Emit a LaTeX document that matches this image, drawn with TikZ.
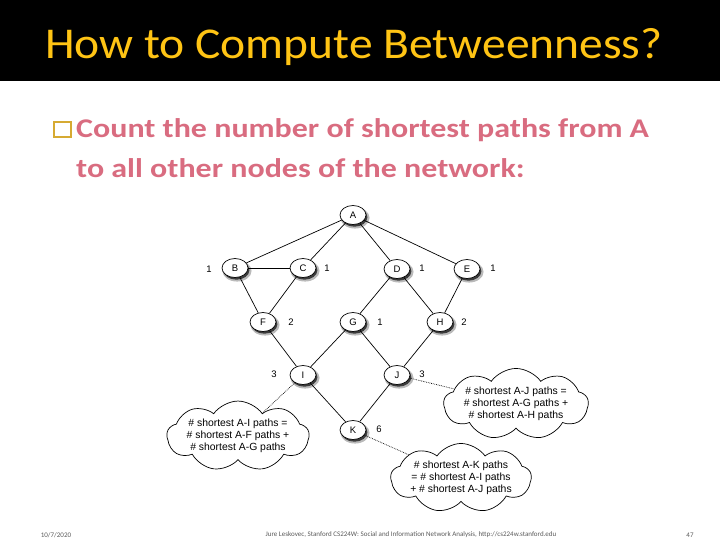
\documentclass[tikz,border=0pt]{standalone}
\usepackage{fontspec}
\usepackage{graphicx}
\setmainfont{Carlito}
\newfontfamily\graphfont{Liberation Sans}
\usetikzlibrary{shapes,shapes.symbols,shadows,positioning}
\definecolor{titlefg}{RGB}{255,196,20}
\definecolor{bodyfg}{RGB}{217,108,128}
\definecolor{bulletfg}{RGB}{214,170,50}
\definecolor{footfg}{RGB}{90,90,90}
\tikzstyle{vertex}=[draw, line width=0.7pt, ellipse, fill=white, minimum width=26pt, minimum height=19pt,
inner sep=0pt, font=\graphfont\fontsize{9.5}{10}\selectfont,
drop shadow={shadow xshift=1.8pt, shadow yshift=-2.6pt, shadow scale=1.12, fill=black!60, opacity=0.45},
drop shadow={shadow xshift=1.4pt, shadow yshift=-2.2pt, shadow scale=1.0, fill=black!85, opacity=0.85}]
\tikzstyle{count}=[font=\graphfont\fontsize{9.5}{10}\selectfont, inner sep=0pt]
\tikzstyle{edge}=[line width=0.7pt, black]
\tikzstyle{note}=[draw, line width=0.7pt, cloud, cloud puffs=9, cloud puff arc=110, aspect=3,
fill=white, align=center, inner xsep=-1pt, inner ysep=-5pt,
font=\graphfont\fontsize{10.4}{12}\selectfont]
\tikzstyle{pointer}=[densely dotted, line width=0.7pt]
\tikzstyle{bodytext}=[anchor=base west, inner sep=0pt, text=bodyfg, font=\bfseries\fontsize{27}{30}\selectfont]

\begin{document}
\begin{tikzpicture}[x=1pt, y=-1pt]
    \useasboundingbox (0,0) rectangle (720,540);

    % title bar
    \fill[black] (0,0) rectangle (720,81);
    \node[anchor=base west, inner sep=0pt, text=titlefg, font=\fontsize{44}{48}\selectfont]
        (title) at (45,59) {\scalebox{1.08}[1]{How to Compute Betweenness?}};

    % bullet
    \draw[bulletfg, line width=1.1pt] (54,122) rectangle (71,137);
    \node[bodytext] (line1) at (76,138) {\scalebox{1.185}[1]{Count the number of shortest paths from A}};
    \node[bodytext] (line2) at (76,178) {\scalebox{1.185}[1]{to all other nodes of the network:}};

    % vertices
    \node[vertex] (A) at (353,215) {A};
    \node[vertex] (B) at (235,268) {B};
    \node[vertex] (C) at (303,268) {C};
    \node[vertex] (D) at (397,269) {D};
    \node[vertex] (E) at (467,269) {E};
    \node[vertex] (F) at (263,322) {F};
    \node[vertex] (G) at (353,322) {G};
    \node[vertex] (H) at (440,322) {H};
    \node[vertex] (I) at (303,375) {I};
    \node[vertex] (J) at (397,375) {J};
    \node[vertex] (K) at (353,430) {K};

    % edges
    \draw[edge] (A) -- (B);
    \draw[edge] (A) -- (C);
    \draw[edge] (A) -- (D);
    \draw[edge] (A) -- (E);
    \draw[edge] (B) -- (C);
    \draw[edge] (B) -- (F);
    \draw[edge] (C) -- (F);
    \draw[edge] (D) -- (G);
    \draw[edge] (D) -- (H);
    \draw[edge] (E) -- (H);
    \draw[edge] (F) -- (I);
    \draw[edge] (G) -- (I);
    \draw[edge] (G) -- (J);
    \draw[edge] (H) -- (J);
    \draw[edge] (I) -- (K);
    \draw[edge] (J) -- (K);

    % path counts
    \node[count] (nB) at (209,269) {1};
    \node[count] (nC) at (327,268) {1};
    \node[count] (nD) at (422,268) {1};
    \node[count] (nE) at (493,268) {1};
    \node[count] (nF) at (291,322) {2};
    \node[count] (nG) at (380,322) {1};
    \node[count] (nH) at (464,322) {2};
    \node[count] (nI) at (274,374) {3};
    \node[count] (nJ) at (422,374) {3};
    \node[count] (nK) at (379,429) {6};

    % notes
    \node[note] (noteI) at (238,436) {\# shortest A-I paths =\\ \# shortest A-F paths +\\ \# shortest A-G paths};
    \node[note] (noteJ) at (516,404) {\# shortest A-J paths =\\ \# shortest A-G paths +\\ \# shortest A-H paths};
    \node[note] (noteK) at (461,478)
        {\# shortest A-K paths\\ = \# shortest A-I paths\\ + \# shortest A-J paths};
    \draw[pointer] (I) -- (noteI);
    \draw[pointer] (J) -- (noteJ);
    \draw[pointer] (K) -- (noteK);

    % footer
    \node[inner sep=0pt, text=footfg, font=\fontsize{7}{8}\selectfont] (date) at (56,535) {10/7/2020};
    \node[inner sep=0pt, text=footfg, font=\fontsize{7}{8}\selectfont] (credit) at (411,535)
        {Jure Leskovec, Stanford CS224W: Social and Information Network Analysis, http://cs224w.stanford.edu};
    \node[inner sep=0pt, text=footfg, font=\fontsize{7}{8}\selectfont] (page) at (690,535) {47};
\end{tikzpicture}
\end{document}
